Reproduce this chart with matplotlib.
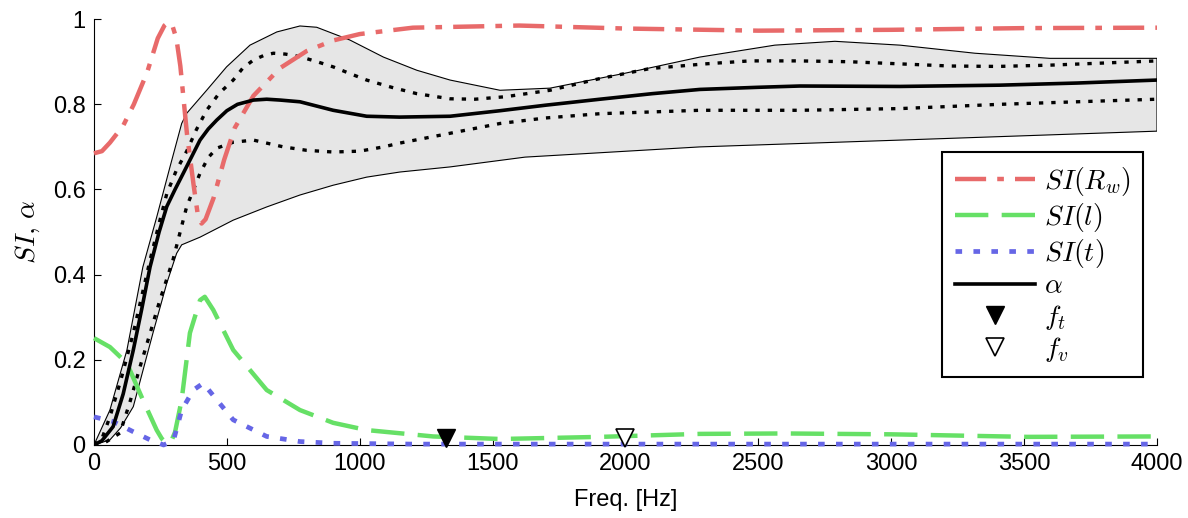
import matplotlib
matplotlib.use('Agg')
import matplotlib.pyplot as plt
import numpy as np

plt.rcParams['font.family'] = ['Liberation Sans', 'DejaVu Sans']
plt.rcParams['mathtext.fontset'] = 'cm'

# SI(R_w)
freq_rw = [0, 30, 60, 110, 150, 200, 240, 265, 280, 295, 310, 325, 350, 375, 392, 405,
           420, 450, 490, 530, 600, 700, 800, 900, 1000, 1200, 1600, 2000, 2500, 3000, 3500, 4000]
si_rw = [0.685, 0.69, 0.71, 0.75, 0.80, 0.875, 0.955, 0.985, 0.993, 0.985, 0.955, 0.89,
         0.73, 0.61, 0.535, 0.52, 0.53, 0.58, 0.67, 0.745, 0.82, 0.885, 0.925, 0.95,
         0.965, 0.98, 0.985, 0.978, 0.973, 0.975, 0.979, 0.98]

# SI(l)
freq_l = [0, 60, 124, 184, 236, 255, 274, 290, 305, 330, 361, 399, 417, 449, 524, 650, 775,
          900, 1026, 1276, 1528, 1904, 2280, 2600, 3000, 3510, 4000]
si_l = [0.251, 0.23, 0.192, 0.106, 0.035, 0.015, 0.003, 0.008, 0.03, 0.106, 0.263, 0.34,
        0.348, 0.317, 0.223, 0.129, 0.082, 0.052, 0.035, 0.02, 0.014, 0.019, 0.026, 0.027,
        0.025, 0.019, 0.02]

# SI(t)
freq_t = [0, 72, 148, 211, 262, 299, 330, 374, 411, 462, 524, 650, 775, 900, 1200, 4000]
si_t = [0.066, 0.055, 0.031, 0.012, 0.0, 0.01, 0.082, 0.129, 0.145, 0.106, 0.059, 0.02,
        0.008, 0.004, 0.002, 0.002]

# alpha, mean
freq_a = [0, 30, 72, 110, 148, 180, 211, 245, 274, 305, 336, 370, 399, 430, 462, 500, 540,
          600, 650, 700, 775, 900, 1026, 1150, 1340, 1528, 1700, 1904, 2100, 2280, 2500,
          2656, 3033, 3409, 3700, 4000]
alpha = [0, 0.01, 0.043, 0.12, 0.223, 0.32, 0.418, 0.5, 0.56, 0.6, 0.638, 0.68, 0.716,
         0.742, 0.763, 0.785, 0.8, 0.81, 0.812, 0.81, 0.806, 0.786, 0.772, 0.77, 0.772,
         0.785, 0.798, 0.812, 0.825, 0.835, 0.84, 0.843, 0.842, 0.845, 0.85, 0.857]

# alpha, upper / lower dotted
freq_hi = [0, 30, 60, 100, 148, 180, 211, 245, 274, 310, 349, 385, 424, 470, 524, 560, 600,
           640, 675, 720, 775, 840, 900, 960, 1026, 1120, 1215, 1340, 1434, 1550, 1716,
           1900, 2092, 2300, 2468, 2650, 2844, 3033, 3220, 3400, 3597, 3800, 4000]
alpha_hi = [0, 0.015, 0.066, 0.15, 0.263, 0.35, 0.434, 0.52, 0.59, 0.645, 0.69, 0.74,
            0.786, 0.825, 0.857, 0.885, 0.904, 0.915, 0.92, 0.918, 0.912, 0.9, 0.888,
            0.873, 0.857, 0.84, 0.825, 0.813, 0.812, 0.818, 0.833, 0.86, 0.884, 0.895,
            0.902, 0.902, 0.9, 0.895, 0.89, 0.889, 0.892, 0.897, 0.902]
freq_lo = [0, 40, 98, 135, 173, 210, 248, 297, 349, 399, 430, 462, 524, 600, 713, 800, 900,
           1000, 1089, 1151, 1340, 1528, 1700, 1904, 2280, 2656, 3033, 3409, 3700, 4000]
alpha_lo = [0, 0.005, 0.028, 0.1, 0.183, 0.26, 0.34, 0.434, 0.56, 0.638, 0.675, 0.697,
            0.711, 0.716, 0.70, 0.692, 0.688, 0.69, 0.70, 0.709, 0.732, 0.755, 0.768,
            0.778, 0.786, 0.786, 0.79, 0.80, 0.806, 0.812]

# envelope (grey band)
freq_env_hi = [0, 60, 124, 184, 236, 286, 330, 349, 424, 499, 587, 688, 775, 838, 963,
               1089, 1215, 1340, 1528, 1716, 1998, 2280, 2562, 2788, 3033, 3315, 3597, 4000]
env_hi = [0, 0.082, 0.223, 0.418, 0.535, 0.653, 0.755, 0.779, 0.833, 0.888, 0.939, 0.97,
          0.984, 0.981, 0.951, 0.911, 0.88, 0.857, 0.833, 0.838, 0.873, 0.911, 0.939,
          0.948, 0.939, 0.92, 0.908, 0.908]
freq_env_lo = [0, 60, 100, 148, 222, 274, 311, 330, 399, 524, 650, 775, 900, 1026, 1151,
               1340, 1622, 2280, 3033, 4000]
env_lo = [0, 0.012, 0.04, 0.09, 0.263, 0.38, 0.45, 0.47, 0.488, 0.528, 0.559, 0.587,
          0.61, 0.629, 0.641, 0.653, 0.676, 0.70, 0.716, 0.737]

# transition frequencies
f_t, f_t_y = 1325, 0.017
f_v, f_v_y = 2000, 0.017

red = '#e86a6a'
green = '#66e066'
blue = '#6666e6'

fig = plt.figure(figsize=(11.88, 5.18), dpi=100)
ax = fig.add_axes([0.0791, 0.141, 0.8948, 0.822])

band_x = list(freq_env_hi) + list(freq_env_lo[::-1])
band_y = list(env_hi) + list(env_lo[::-1])
ax.fill(band_x, band_y, facecolor='#e6e6e6', edgecolor='black', linewidth=0.8, zorder=1)

ax.plot(freq_hi, alpha_hi, color='black', lw=2.4, linestyle=(0, (1.3, 2.4)), zorder=3)
ax.plot(freq_lo, alpha_lo, color='black', lw=2.4, linestyle=(0, (1.3, 2.4)), zorder=3)

ax.plot(freq_rw, si_rw, color=red, lw=3.2, linestyle=(0, (7, 2.5, 1.5, 2.5)),
        label=r'$SI(R_w)$', zorder=4, clip_on=False)
ax.plot(freq_l, si_l, color=green, lw=3.2, linestyle=(0, (7.5, 3)),
        label=r'$SI(l)$', zorder=4, clip_on=False)
ax.plot(freq_t, si_t, color=blue, lw=3.4, linestyle=(0, (1.4, 2.4)),
        label=r'$SI(t)$', zorder=4, clip_on=False)
ax.plot(freq_a, alpha, color='black', lw=2.6, label=r'$\alpha$', zorder=5)

ax.plot([f_t], [f_t_y], linestyle='none', marker='v', color='black', ms=13,
        label=r'$f_t$', zorder=6, clip_on=False)
ax.plot([f_v], [f_v_y], linestyle='none', marker='v', markerfacecolor='white',
        markeredgecolor='black', ms=13, mew=1.2, label=r'$f_v$', zorder=6, clip_on=False)

ax.set_xlim(0, 4000)
ax.set_ylim(0, 1)
ax.set_xticks(np.arange(0, 4001, 500))
ax.set_yticks([0, 0.2, 0.4, 0.6, 0.8, 1])
ax.set_yticklabels(['0', '0.2', '0.4', '0.6', '0.8', '1'])
ax.tick_params(direction='in', length=5, width=0.8, labelsize=17, pad=6)
ax.spines['top'].set_visible(False)
ax.spines['right'].set_visible(False)
ax.set_xlabel('Freq. [Hz]', fontsize=17, labelpad=10)
ax.set_ylabel(r'$SI,\, \alpha$', fontsize=20, labelpad=8)

leg = ax.legend(loc='upper right', bbox_to_anchor=(0.987, 0.688), borderaxespad=0,
                fontsize=20, frameon=True, fancybox=False, edgecolor='black', framealpha=1,
                handlelength=2.9, handletextpad=0.3, borderpad=0.45, labelspacing=0.12)
leg.get_frame().set_linewidth(1.5)

fig.savefig('out.png', dpi=100)
